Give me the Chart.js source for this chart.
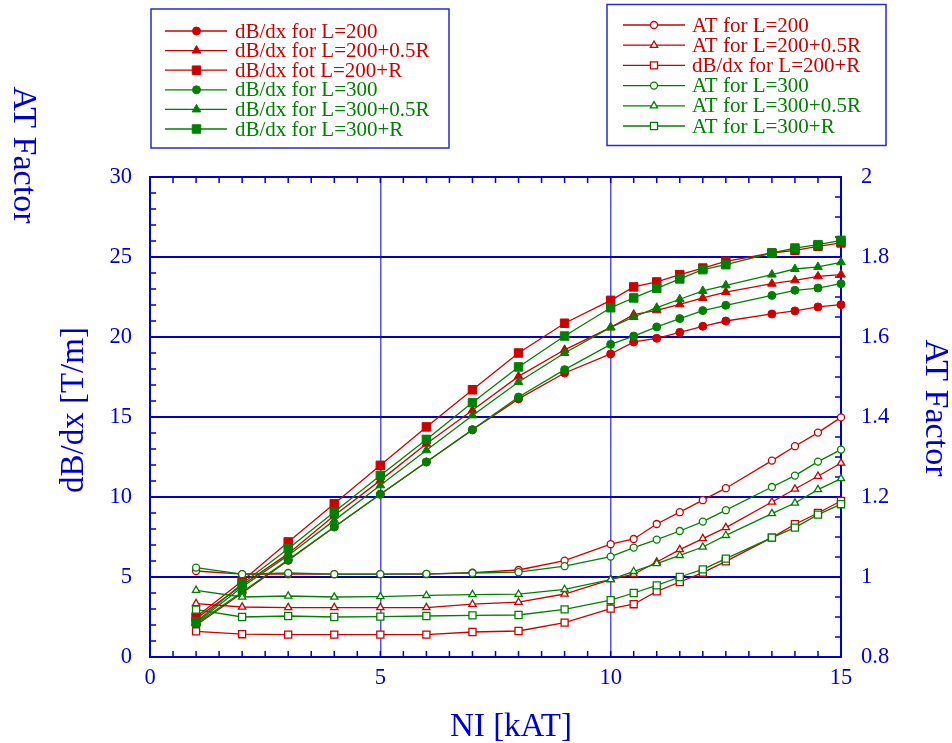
<!DOCTYPE html>
<html><head><meta charset="utf-8">
<script src="https://cdn.jsdelivr.net/npm/chart.js@4.4.1/dist/chart.umd.min.js"></script>
<style>html,body{margin:0;padding:0;background:#fff;} #wrap{width:952px;height:743px;position:relative;}</style>
</head><body><div id="wrap"><canvas id="c" width="952" height="743"></canvas></div>
<script>
// ---- data ----
const NI = [1,2,3,4,5,6,7,8,9,10,10.5,11,11.5,12,12.5,13.5,14,14.5,15];
const dB200   = [1.98,4.0,6.04,8.13,10.17,12.19,14.2,16.13,17.75,18.94,19.69,19.92,20.29,20.67,21.0,21.44,21.63,21.88,22.02];
const dB200h  = [2.4,4.48,6.46,8.85,11.04,13.33,15.42,17.54,19.2,20.6,21.4,21.67,22.04,22.44,22.81,23.33,23.54,23.79,23.9];
const dB200R  = [2.5,4.75,7.19,9.58,11.98,14.38,16.7,19.0,20.86,22.29,23.13,23.44,23.9,24.31,24.73,25.25,25.42,25.67,25.88];
const dB300   = [2.08,4.06,6.08,8.13,10.17,12.19,14.21,16.25,17.96,19.54,20.06,20.63,21.15,21.65,21.98,22.6,22.92,23.06,23.33];
const dB300h  = [2.13,4.38,6.35,8.54,10.73,12.92,15.1,17.19,19.0,20.6,21.25,21.83,22.36,22.88,23.23,23.9,24.25,24.38,24.67];
const dB300R  = [2.19,4.58,6.77,9.06,11.35,13.6,15.9,18.13,20.06,21.83,22.44,23.04,23.63,24.21,24.52,25.25,25.56,25.77,26.04];
const AT200   = [1.015,1.007,1.007,1.007,1.007,1.007,1.011,1.0175,1.041,1.082,1.095,1.1325,1.162,1.192,1.222,1.291,1.327,1.361,1.399];
const AT200h  = [0.9335,0.925,0.9235,0.9235,0.9235,0.9235,0.932,0.937,0.9575,0.9935,1.007,1.0375,1.0685,1.096,1.1235,1.1875,1.22,1.252,1.285];
const AT200R  = [0.864,0.857,0.856,0.856,0.856,0.856,0.8625,0.865,0.886,0.921,0.932,0.964,0.9875,1.011,1.039,1.0985,1.132,1.16,1.19];
const AT300   = [1.0235,1.007,1.01,1.007,1.007,1.008,1.01,1.012,1.027,1.051,1.0735,1.0935,1.115,1.1385,1.167,1.225,1.2535,1.2885,1.3185];
const AT300h  = [0.9668,0.95,0.9525,0.95,0.951,0.954,0.956,0.957,0.969,0.9935,1.014,1.0335,1.054,1.075,1.104,1.1585,1.185,1.2185,1.246];
const AT300R  = [0.9185,0.9,0.9025,0.9,0.901,0.9025,0.904,0.905,0.919,0.942,0.96,0.979,1.0,1.019,1.046,1.0985,1.1235,1.156,1.182];
const legendLeftLabels  = ['dB/dx for L=200','dB/dx for L=200+0.5R','dB/dx fot L=200+R','dB/dx for L=300','dB/dx for L=300+0.5R','dB/dx for L=300+R'];
const legendRightLabels = ['AT for L=200','AT for L=200+0.5R','dB/dx for L=200+R','AT for L=300','AT for L=300+0.5R','AT for L=300+R'];
const xTitle = 'NI [kAT]';
const yTitle = 'dB/dx [T/m]';
const y2Title = 'AT Factor';
const topLeftTitle = 'AT Factor';

// ---- styles ----
const RED = '#cc0000', GREEN = '#008000', BLUE = '#0000cc';
const FONT = '"Liberation Serif","Times New Roman",serif';
Chart.defaults.font.family = FONT;

function mk(label, ys, color, style, filled, axis, r, order) {
  return {
    label, data: NI.map((x, i) => ({x, y: ys[i]})), yAxisID: axis,
    borderColor: color, borderWidth: 1.3, backgroundColor: color,
    pointStyle: style, pointRadius: r, pointHoverRadius: r,
    pointBackgroundColor: filled ? color : '#ffffff', pointBorderColor: color,
    pointBorderWidth: filled ? 1 : 1.3, showLine: true, fill: false, tension: 0,
    clip: false, order
  };
}

const datasets = [
  mk(legendLeftLabels[0], dB200,  RED,   'circle',   true, 'y', 4, 12),
  mk(legendLeftLabels[1], dB200h, RED,   'triangle', true, 'y', 5, 11),
  mk(legendLeftLabels[2], dB200R, RED,   'rect',     true, 'y', 6, 10),
  mk(legendLeftLabels[3], dB300,  GREEN, 'circle',   true, 'y', 4, 9),
  mk(legendLeftLabels[4], dB300h, GREEN, 'triangle', true, 'y', 5, 8),
  mk(legendLeftLabels[5], dB300R, GREEN, 'rect',     true, 'y', 6, 7),
  mk(legendRightLabels[0], AT200,  RED,   'circle',   false, 'y2', 3.5, 6),
  mk(legendRightLabels[1], AT200h, RED,   'triangle', false, 'y2', 4.2, 5),
  mk(legendRightLabels[2], AT200R, RED,   'rect',     false, 'y2', 5, 4),
  mk(legendRightLabels[3], AT300,  GREEN, 'circle',   false, 'y2', 3.5, 3),
  mk(legendRightLabels[4], AT300h, GREEN, 'triangle', false, 'y2', 4.2, 2),
  mk(legendRightLabels[5], AT300R, GREEN, 'rect',     false, 'y2', 5, 1)
];

function drawMarker(ctx, style, x, y, r, filled, color) {
  ctx.save();
  ctx.fillStyle = filled ? color : '#ffffff';
  ctx.strokeStyle = color;
  ctx.lineWidth = filled ? 1 : 1.3;
  ctx.beginPath();
  if (style === 'circle') {
    ctx.arc(x, y, r, 0, Math.PI * 2);
  } else if (style === 'triangle') {
    const a = Math.PI / 6;
    ctx.moveTo(x, y - r);
    ctx.lineTo(x + r * Math.cos(a), y + r * Math.sin(a));
    ctx.lineTo(x - r * Math.cos(a), y + r * Math.sin(a));
    ctx.closePath();
  } else {
    const s = r / Math.SQRT2;
    ctx.rect(x - s, y - s, 2 * s, 2 * s);
  }
  ctx.fill(); ctx.stroke();
  ctx.restore();
}

const deco = {
  id: 'deco',
  beforeDatasetsDraw(chart) {
    const {ctx, chartArea: a, scales} = chart;
    ctx.save();
    ctx.strokeStyle = BLUE;
    ctx.lineWidth = 1.5;
    const L = 6;
    ctx.beginPath();
    for (let v = 0.5; v < 15; v += 0.5) {
      const px = scales.x.getPixelForValue(v);
      ctx.moveTo(px, a.bottom); ctx.lineTo(px, a.bottom - L);
      ctx.moveTo(px, a.top); ctx.lineTo(px, a.top + L);
    }
    for (let v = 1; v < 30; v += 1) {
      const py = scales.y.getPixelForValue(v);
      ctx.moveTo(a.left, py); ctx.lineTo(a.left + L, py);
    }
    for (let k = 1; k < 24; k++) {
      const py = scales.y2.getPixelForValue(0.8 + k * 0.05);
      ctx.moveTo(a.right, py); ctx.lineTo(a.right - L, py);
    }
    ctx.stroke();
    ctx.lineWidth = 2;
    ctx.strokeRect(a.left, a.top, a.right - a.left, a.bottom - a.top);
    ctx.restore();
  },
  afterDraw(chart) {
    const ctx = chart.ctx;
    ctx.save();
    // titles
    ctx.fillStyle = BLUE;
    ctx.textAlign = 'center'; ctx.textBaseline = 'middle';
    ctx.font = '33px ' + FONT;
    ctx.fillText(xTitle, 511, 727);
    ctx.save(); ctx.translate(74, 410); ctx.rotate(-Math.PI / 2); ctx.fillText(yTitle, 0, 0); ctx.restore();
    ctx.font = '34px ' + FONT;
    ctx.save(); ctx.translate(935, 408); ctx.rotate(Math.PI / 2); ctx.fillText(y2Title, 0, 0); ctx.restore();
    ctx.save(); ctx.translate(23, 155); ctx.rotate(Math.PI / 2); ctx.fillText(topLeftTitle, 0, 0); ctx.restore();
    // legends
    const styles = ['circle', 'triangle', 'rect', 'circle', 'triangle', 'rect'];
    const cols = [RED, RED, RED, GREEN, GREEN, GREEN];
    ctx.strokeStyle = '#2a2ad0'; ctx.lineWidth = 1.5;
    ctx.strokeRect(151, 9, 298, 139);
    ctx.strokeRect(607, 4.5, 279, 141);
    ctx.font = '21px ' + FONT;
    ctx.textAlign = 'left'; ctx.textBaseline = 'middle';
    const rl = [4, 5, 6, 4, 5, 6], rr = [3.5, 4.2, 5, 3.5, 4.2, 5];
    for (let i = 0; i < 6; i++) {
      let y = 31 + i * 19.6;
      ctx.strokeStyle = cols[i]; ctx.lineWidth = 1.3;
      ctx.beginPath(); ctx.moveTo(165, y); ctx.lineTo(227, y); ctx.stroke();
      drawMarker(ctx, styles[i], 196.5, y, rl[i], true, cols[i]);
      ctx.fillStyle = cols[i];
      ctx.fillText(legendLeftLabels[i], 235, y + 1);
      y = 25 + i * 20.2;
      ctx.strokeStyle = cols[i];
      ctx.beginPath(); ctx.moveTo(623, y); ctx.lineTo(685, y); ctx.stroke();
      drawMarker(ctx, styles[i], 654, y, rr[i], false, cols[i]);
      ctx.fillStyle = cols[i];
      ctx.fillText(legendRightLabels[i], 692, y + 1);
    }
    ctx.restore();
  }
};

const tickFont = {size: 22.5, family: FONT};
new Chart(document.getElementById('c'), {
  type: 'line',
  data: {datasets},
  options: {
    responsive: false, animation: false, devicePixelRatio: 1,
    layout: {padding: {top: 177, left: 0, right: 0, bottom: 0}},
    plugins: {legend: {display: false}, tooltip: {enabled: false}, title: {display: false}},
    scales: {
      x: {
        type: 'linear', min: 0, max: 15,
        ticks: {stepSize: 5, color: BLUE, font: tickFont, padding: 8, maxRotation: 0},
        grid: {drawTicks: false, lineWidth: 1.5,
          color: c => (c.tick && (c.tick.value === 5 || c.tick.value === 10)) ? 'rgba(50,50,235,0.85)' : 'rgba(0,0,0,0)'},
        border: {display: false},
        afterFit: s => { s.height = 86; }
      },
      y: {
        type: 'linear', position: 'left', min: 0, max: 30,
        ticks: {stepSize: 5, color: BLUE, font: tickFont, padding: 18},
        grid: {drawTicks: false, lineWidth: 2,
          color: c => (c.tick && c.tick.value > 0 && c.tick.value < 30) ? BLUE : 'rgba(0,0,0,0)'},
        border: {display: false},
        afterFit: s => { s.width = 150; }
      },
      y2: {
        type: 'linear', position: 'right', min: 0.8, max: 2,
        ticks: {stepSize: 0.2, color: BLUE, font: tickFont, padding: 20,
          callback: v => String(parseFloat(Number(v).toFixed(2)))},
        grid: {display: false, drawTicks: false},
        border: {display: false},
        afterFit: s => { s.width = 111; }
      }
    }
  },
  plugins: [deco]
});
</script></body></html>
